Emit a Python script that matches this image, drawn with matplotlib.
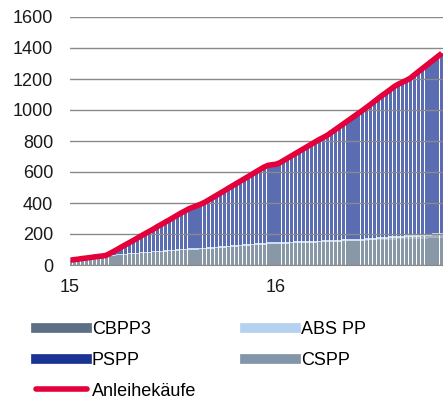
import numpy as np
import pandas as pd
import matplotlib
matplotlib.use("Agg")
import matplotlib.pyplot as plt
from matplotlib.lines import Line2D

plt.rcParams['font.family'] = ['Liberation Sans', 'DejaVu Sans']

# weekly dates (Fridays), Jan 2015 - Oct 2016
weeks = pd.date_range("2015-01-02", "2016-10-21", freq="7D")

# holdings in bn EUR
cbpp3 = [30, 33, 36, 39, 42, 45, 48, 51, 54, 57, 59, 61, 63,
         65, 67, 69, 71, 73, 75, 77, 79, 81, 83, 85, 87, 89,
         91, 93, 95, 96, 98, 99, 100, 101, 102, 104, 106, 108, 110,
         112, 114, 116, 118, 120, 122, 124, 126, 128, 130, 132, 134, 135,
         135, 136, 137, 138, 139, 140, 141, 142, 143, 144, 145, 146, 147,
         148, 149, 150, 151, 152, 153, 154, 155, 156, 157, 158, 159, 160,
         161, 162, 162, 163, 164, 165, 165, 166, 166, 167, 168, 169, 170, 171,
         172, 173, 174]
cspp = [0] * 75 + [1, 2, 4, 6, 7, 8, 9, 10, 11, 12, 12, 13,
                   14, 15, 16, 17, 18, 19, 20, 21]
abspp = [1, 2, 2, 3, 3, 3, 4, 4, 4, 5, 5, 5, 5,
         6, 6, 6, 6, 7, 7, 7, 7, 7, 8, 8, 8, 8,
         8, 9, 9, 9, 9, 9, 9, 9, 10, 10, 10, 10, 10,
         10, 11, 11, 11, 11, 11, 11, 11, 12, 12, 12, 12, 12,
         12, 12, 12, 12, 12, 12, 12, 12, 12, 12, 12, 12, 12,
         13, 13, 13, 13, 13, 13, 13, 13, 13, 13, 13, 13, 13,
         13, 13, 13, 13, 13, 13, 13, 13, 13, 13, 13, 13, 13, 13,
         13, 13, 13]
pspp = [0] * 10 + [11, 23, 35,
                   47, 59, 71, 83, 95, 108, 120, 132, 144,
                   157, 169, 182, 194, 207, 219, 232, 244, 256,
                   265, 274, 283, 293, 306, 319, 332, 345,
                   358, 371, 384, 397, 410, 423, 436, 449, 462,
                   475, 488, 497, 500,
                   503, 512, 526, 540, 554, 568, 582, 596, 610,
                   624, 638, 652, 664, 676, 693, 710, 727, 744,
                   761, 778, 795, 812, 829, 846, 863, 880,
                   897, 914, 931, 948, 965, 978, 989, 1000, 1013,
                   1032, 1050, 1068, 1086, 1104, 1122, 1140, 1158]

series = [("CBPP3", cbpp3, "#5b7086"),
          ("CSPP", cspp, "#8395a8"),
          ("ABS PP", abspp, "#b4d2ef"),
          ("PSPP", pspp, "#1b3494")]
total = np.sum([np.array(s[1]) for s in series], axis=0)

fig = plt.figure(figsize=(4.43, 4.01), dpi=100)
ax = fig.add_axes([70 / 443, 136 / 401, 373 / 443, 248 / 401])

bottom = np.zeros(len(weeks))
for name, vals, col in series:
    ax.bar(weeks, vals, width=5.5, bottom=bottom, color=col, alpha=0.72,
           linewidth=0, align="center", zorder=2)
    bottom += np.array(vals)

ax.plot(weeks, total, color="#e3003b", lw=4, solid_capstyle="butt", zorder=4)

ax.set_ylim(0, 1600)
ax.set_yticks(range(0, 1601, 200))
ax.set_xlim(pd.Timestamp("2015-01-01"), pd.Timestamp("2016-10-23"))
ax.set_xticks([pd.Timestamp("2015-01-01"), pd.Timestamp("2016-01-01")])
ax.set_xticklabels(["15", "16"])
ax.grid(axis="y", color="#8a8a8a", lw=1, zorder=3)
ax.set_axisbelow(False)
for s in ["top", "right", "left"]:
    ax.spines[s].set_visible(False)
ax.spines["bottom"].set_color("#8a8a8a")
ax.spines["bottom"].set_zorder(3)
ax.tick_params(axis="both", length=0, labelsize=13, colors="#1a1a1a")
ax.tick_params(axis="y", pad=12)
ax.tick_params(axis="x", pad=10)

handles = [Line2D([], [], color="#5b7086", lw=7),
           Line2D([], [], color="#1b3494", lw=7),
           Line2D([], [], color="#e3003b", lw=4, solid_capstyle="round"),
           Line2D([], [], color="#b4d2ef", lw=7),
           Line2D([], [], color="#8395a8", lw=7)]
labels = ["CBPP3", "PSPP", "Anleihekäufe", "ABS PP", "CSPP"]
fig.legend(handles, labels, ncol=2, loc="upper left",
           bbox_to_anchor=(36 / 443, 1 - 321 / 401), frameon=False,
           fontsize=13, handlelength=2.8, handletextpad=0.3,
           columnspacing=2.7, labelspacing=0.77, borderpad=0,
           borderaxespad=0)

fig.savefig("out.png", dpi=100)
